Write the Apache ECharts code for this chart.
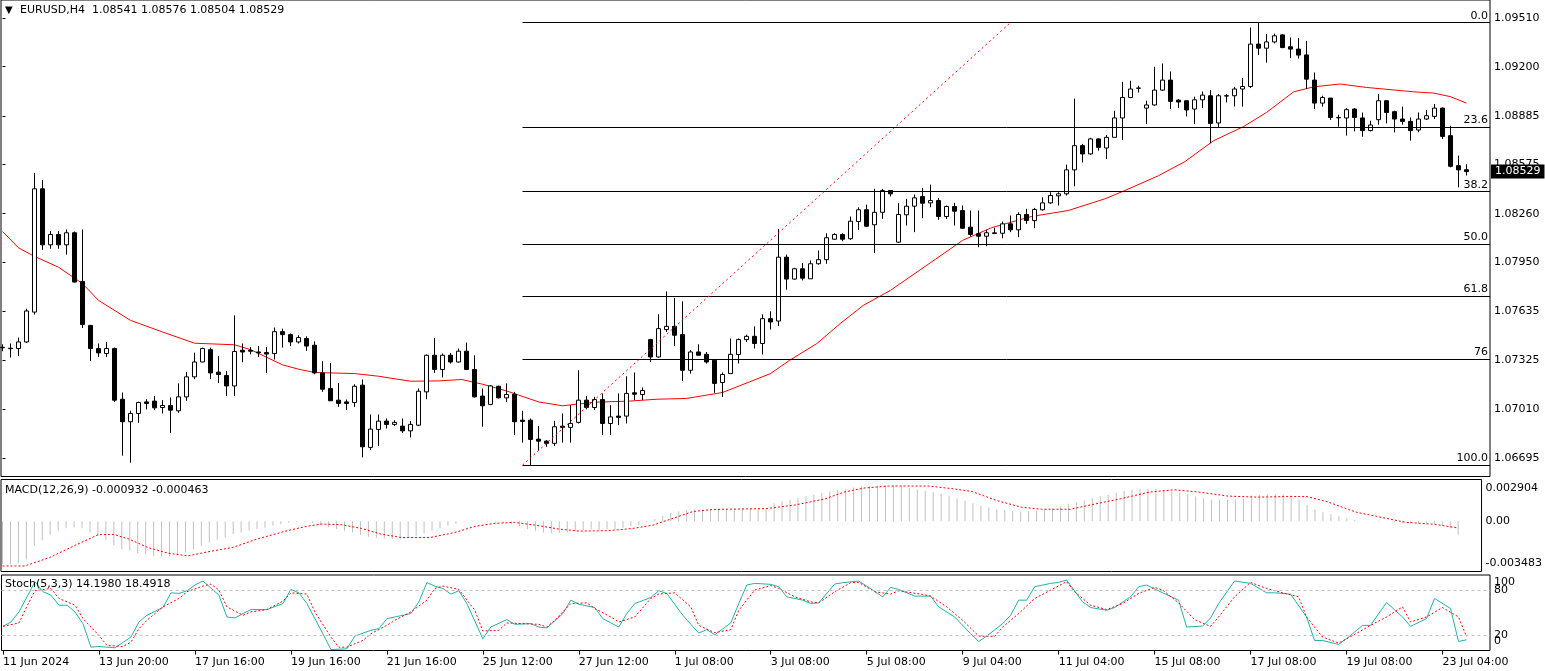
<!DOCTYPE html>
<html><head><meta charset="utf-8">
<script src="https://cdn.jsdelivr.net/npm/echarts@6.0.0/dist/echarts.min.js"></script>
<style>html,body{margin:0;padding:0;background:#fff}#c{width:1545px;height:671px}</style>
</head><body><div id="c"></div>
<script>
// ---- data (EURUSD H4) ----
const opens=[1.07403,1.07400,1.07398,1.07440,1.07631,1.08419,1.08061,1.08127,1.08061,1.08138,1.07827,1.07546,1.07398,1.07366,1.07398,1.07074,1.06930,1.06983,1.07057,1.07062,1.07021,1.07034,1.07000,1.07089,1.07217,1.07312,1.07391,1.07247,1.07226,1.07159,1.07387,1.07387,1.07376,1.07372,1.07366,1.07506,1.07487,1.07440,1.07462,1.07419,1.07242,1.07143,1.07068,1.07057,1.07053,1.07164,1.06766,1.06881,1.06934,1.06913,1.06902,1.06872,1.06908,1.07121,1.07355,1.07264,1.07355,1.07312,1.07381,1.07264,1.07094,1.07041,1.07157,1.07083,1.07106,1.06940,1.06940,1.06819,1.06806,1.06792,1.06902,1.06894,1.06926,1.07068,1.07021,1.07072,1.06919,1.06966,1.06966,1.07115,1.07104,1.07455,1.07344,1.07519,1.07540,1.07487,1.07259,1.07376,1.07361,1.07323,1.07181,1.07238,1.07360,1.07455,1.07476,1.07430,1.07589,1.07574,1.07982,1.07842,1.07908,1.07844,1.07940,1.07966,1.08097,1.08127,1.08100,1.08210,1.08285,1.08189,1.08269,1.08408,1.08078,1.08253,1.08308,1.08370,1.08329,1.08344,1.08242,1.08306,1.08280,1.08174,1.08132,1.08116,1.08133,1.08135,1.08195,1.08157,1.08255,1.08216,1.08285,1.08329,1.08374,1.08387,1.08540,1.08695,1.08642,1.08738,1.08680,1.08748,1.08872,1.09003,1.09063,1.08935,1.08955,1.09050,1.09114,1.08986,1.08982,1.08929,1.08988,1.09014,1.08840,1.09014,1.09014,1.09057,1.09073,1.09344,1.09318,1.09358,1.09403,1.09327,1.09312,1.09275,1.09114,1.08967,1.08999,1.08875,1.08872,1.08929,1.08872,1.08791,1.08861,1.08982,1.08912,1.08865,1.08850,1.08795,1.08865,1.08882,1.08935,1.08759,1.08567,1.08541];
const highs=[1.07425,1.07430,1.07468,1.07653,1.08521,1.08476,1.08148,1.08148,1.08159,1.08146,1.08159,1.07546,1.07430,1.07440,1.07404,1.07117,1.07000,1.07058,1.07074,1.07094,1.07068,1.07085,1.07175,1.07249,1.07372,1.07404,1.07404,1.07349,1.07255,1.07610,1.07430,1.07408,1.07414,1.07408,1.07532,1.07525,1.07494,1.07483,1.07476,1.07444,1.07317,1.07306,1.07178,1.07072,1.07170,1.07200,1.06977,1.06977,1.06951,1.06940,1.06951,1.06934,1.07143,1.07360,1.07465,1.07366,1.07370,1.07398,1.07436,1.07355,1.07143,1.07164,1.07160,1.07175,1.07121,1.07000,1.06951,1.06902,1.06813,1.06936,1.06983,1.07036,1.07259,1.07094,1.07089,1.07111,1.07036,1.07111,1.07221,1.07245,1.07149,1.07460,1.07617,1.07763,1.07721,1.07700,1.07387,1.07425,1.07376,1.07323,1.07245,1.07462,1.07462,1.07487,1.07540,1.07617,1.07636,1.08163,1.07999,1.07914,1.07944,1.07961,1.08025,1.08135,1.08135,1.08135,1.08242,1.08301,1.08318,1.08419,1.08419,1.08410,1.08327,1.08355,1.08382,1.08425,1.08446,1.08361,1.08312,1.08329,1.08312,1.08280,1.08280,1.08157,1.08170,1.08210,1.08248,1.08269,1.08291,1.08297,1.08365,1.08397,1.08397,1.08574,1.08995,1.08706,1.08745,1.08741,1.08763,1.08918,1.09103,1.09110,1.09078,1.08982,1.09199,1.09220,1.09169,1.08993,1.08982,1.09008,1.09041,1.09050,1.09025,1.09025,1.09071,1.09127,1.09450,1.09482,1.09408,1.09411,1.09408,1.09386,1.09382,1.09365,1.09163,1.09014,1.08999,1.08893,1.08935,1.08935,1.08907,1.08854,1.09025,1.08986,1.08918,1.08944,1.08875,1.08907,1.08923,1.08961,1.08939,1.08822,1.08631,1.08576];
const lows=[1.07381,1.07340,1.07351,1.07434,1.07615,1.08029,1.08036,1.08036,1.07998,1.07820,1.07529,1.07319,1.07344,1.07344,1.07057,1.06713,1.06668,1.06923,1.07009,1.07004,1.06983,1.06859,1.06987,1.07064,1.07202,1.07310,1.07202,1.07178,1.07094,1.07094,1.07310,1.07361,1.07344,1.07242,1.07328,1.07404,1.07413,1.07430,1.07383,1.07234,1.07121,1.07064,1.07025,1.07004,1.07025,1.06702,1.06749,1.06775,1.06887,1.06902,1.06859,1.06830,1.06902,1.07074,1.07242,1.07213,1.07302,1.07308,1.07260,1.07085,1.06898,1.07036,1.07079,1.07057,1.06845,1.06796,1.06653,1.06745,1.06770,1.06775,1.06796,1.06796,1.06919,1.07009,1.07004,1.06845,1.06845,1.06908,1.06919,1.07068,1.07068,1.07312,1.07340,1.07504,1.07414,1.07191,1.07238,1.07355,1.07302,1.07115,1.07089,1.07238,1.07302,1.07440,1.07398,1.07360,1.07519,1.07542,1.07774,1.07838,1.07834,1.07844,1.07934,1.07940,1.08093,1.08084,1.08093,1.08157,1.08174,1.08008,1.08227,1.08370,1.08072,1.08184,1.08142,1.08231,1.08301,1.08221,1.08227,1.08184,1.08163,1.08114,1.08046,1.08052,1.08132,1.08103,1.08142,1.08110,1.08195,1.08167,1.08280,1.08323,1.08312,1.08376,1.08435,1.08588,1.08636,1.08663,1.08610,1.08748,1.08731,1.08999,1.09035,1.08833,1.08950,1.09046,1.08929,1.08935,1.08882,1.08833,1.08935,1.08710,1.08808,1.08971,1.08946,1.08944,1.09063,1.09274,1.09226,1.09348,1.09318,1.09254,1.09252,1.09057,1.08929,1.08944,1.08859,1.08816,1.08759,1.08786,1.08752,1.08786,1.08829,1.08837,1.08780,1.08829,1.08727,1.08780,1.08859,1.08865,1.08738,1.08556,1.08429,1.08504];
const closes=[1.07406,1.07397,1.07440,1.07638,1.08419,1.08061,1.08127,1.08061,1.08138,1.07823,1.07551,1.07398,1.07370,1.07398,1.07068,1.06930,1.06983,1.07053,1.07047,1.07019,1.07034,1.07004,1.07089,1.07217,1.07312,1.07398,1.07242,1.07232,1.07159,1.07379,1.07376,1.07381,1.07370,1.07363,1.07506,1.07487,1.07440,1.07468,1.07414,1.07242,1.07138,1.07064,1.07047,1.07047,1.07157,1.06770,1.06883,1.06934,1.06913,1.06926,1.06872,1.06913,1.07125,1.07355,1.07264,1.07355,1.07312,1.07381,1.07264,1.07089,1.07032,1.07159,1.07083,1.07104,1.06930,1.06932,1.06817,1.06806,1.06792,1.06898,1.06894,1.06919,1.07068,1.07021,1.07072,1.06919,1.06961,1.06958,1.07111,1.07106,1.07130,1.07344,1.07525,1.07540,1.07483,1.07259,1.07376,1.07355,1.07312,1.07175,1.07232,1.07361,1.07455,1.07476,1.07430,1.07589,1.07568,1.07982,1.07842,1.07908,1.07848,1.07940,1.07966,1.08106,1.08127,1.08097,1.08212,1.08285,1.08180,1.08269,1.08408,1.08387,1.08255,1.08308,1.08361,1.08327,1.08344,1.08242,1.08306,1.08276,1.08167,1.08127,1.08116,1.08138,1.08138,1.08195,1.08157,1.08255,1.08216,1.08287,1.08329,1.08376,1.08387,1.08540,1.08695,1.08642,1.08738,1.08684,1.08748,1.08872,1.09003,1.09057,1.09062,1.08955,1.09050,1.09114,1.08978,1.08974,1.08923,1.08988,1.09018,1.08837,1.09014,1.09012,1.09057,1.09073,1.09344,1.09318,1.09358,1.09397,1.09322,1.09312,1.09274,1.09120,1.08967,1.09003,1.08875,1.08873,1.08925,1.08875,1.08791,1.08827,1.08982,1.08907,1.08865,1.08850,1.08791,1.08865,1.08886,1.08935,1.08754,1.08563,1.08540,1.08529];
// moving average readings [bar, price]
const maLine=[[0,1.08146],[2,1.08042],[4,1.07987],[7,1.07918],[10,1.07813],[12,1.07706],[16,1.07578],[20,1.07504],[24,1.07432],[29,1.07422],[31,1.07391],[35,1.07294],[37,1.07266],[39,1.07245],[44,1.07238],[47,1.07221],[51,1.07189],[54.5,1.07191],[57.4,1.07200],[60,1.07170],[63,1.07127],[67,1.07057],[70,1.07032],[74,1.07055],[78.4,1.07062],[81.8,1.07074],[85.5,1.07079],[90,1.07117],[93.4,1.07185],[96,1.07238],[98.4,1.07323],[101.8,1.07430],[104.7,1.07557],[107.6,1.07674],[111,1.07770],[116.6,1.07968],[120,1.08089],[123.6,1.08170],[128.6,1.08242],[133.2,1.08280],[137.8,1.08355],[140.3,1.08408],[144.5,1.08503],[147.8,1.08593],[151.4,1.08727],[155.1,1.08816],[158,1.08907],[161.4,1.09039],[163.9,1.09071],[167.2,1.09089],[170.5,1.09067],[176.4,1.09039],[178.9,1.09031],[181,1.09008],[183,1.08967]];
// MACD main (histogram) per bar
const macdMain=[-0.002982,-0.002982,-0.002913,-0.002633,-0.001701,-0.001305,-0.000932,-0.000652,-0.000489,-0.000419,-0.000489,-0.000769,-0.001002,-0.001305,-0.001654,-0.001934,-0.00205,-0.002214,-0.002307,-0.0024,-0.002447,-0.002447,-0.002353,-0.002167,-0.001934,-0.001701,-0.001468,-0.001282,-0.001118,-0.000885,-0.000769,-0.000629,-0.000536,-0.000443,-0.000303,-0.00021,-0.000117,-0.00007,-0.00007,-0.000117,-0.000256,-0.000419,-0.000536,-0.000652,-0.000769,-0.000955,-0.001072,-0.001142,-0.001188,-0.001235,-0.001235,-0.001142,-0.001002,-0.000839,-0.000652,-0.000489,-0.000303,-0.000163,-0.000023,0.000047,0.0,-0.000023,-0.00007,-0.000117,-0.00021,-0.00035,-0.000536,-0.000652,-0.000769,-0.000816,-0.000816,-0.000769,-0.000676,-0.000606,-0.000559,-0.000606,-0.000559,-0.000536,-0.000443,-0.00035,-0.000256,-0.00007,0.000163,0.000396,0.000583,0.000699,0.000792,0.000816,0.000816,0.000839,0.000862,0.000839,0.000862,0.000909,0.000909,0.000909,0.000932,0.001258,0.001398,0.001491,0.001608,0.001748,0.001864,0.00198,0.002074,0.00219,0.00226,0.002353,0.002423,0.002447,0.002493,0.002493,0.002447,0.0024,0.00233,0.002214,0.00212,0.002027,0.001911,0.001771,0.001608,0.001421,0.001258,0.001095,0.000955,0.000839,0.000769,0.000722,0.000676,0.000699,0.000746,0.000816,0.000885,0.001025,0.001212,0.001305,0.001445,0.001608,0.001748,0.001841,0.00198,0.002097,0.00219,0.002237,0.00226,0.002237,0.00219,0.002074,0.002004,0.001887,0.001724,0.001608,0.001515,0.001491,0.001491,0.001515,0.001584,0.001794,0.001841,0.001887,0.001887,0.001864,0.001794,0.001515,0.001142,0.000816,0.000629,0.000489,0.00035,0.00021,0.000093,0.0,0.000023,0.000047,0.0,-0.00007,-0.000117,-0.00014,-0.000117,-0.00014,-0.000186,-0.000256,-0.000489,-0.000932];
// MACD signal readings [bar, value]
const macdSignal=[[0,-0.0031],[2.8,-0.0031],[5.9,-0.00252],[9,-0.0017],[12.1,-0.00091],[14,-0.00091],[15.9,-0.00123],[18.3,-0.00182],[20.8,-0.00221],[23.3,-0.0024],[25.8,-0.00212],[28.9,-0.00182],[32,-0.00123],[35.8,-0.00065],[38.2,-0.00035],[40.1,-0.00019],[42.6,-0.00023],[45.1,-0.00049],[47.6,-0.00089],[50.1,-0.00112],[53.8,-0.00112],[56.9,-0.00077],[59.4,-0.00035],[61.9,-0.00014],[64.4,-0.00007],[66.9,-0.00026],[70,-0.00054],[72.5,-0.00068],[76.2,-0.00065],[79.3,-0.00049],[81.8,-0.00026],[84.3,0.00021],[86.8,0.00068],[89.2,0.00082],[93,0.00086],[96,0.00088],[99.7,0.00114],[103.4,0.00156],[105.8,0.00203],[108.3,0.00231],[111.4,0.00245],[116.4,0.00245],[119.5,0.00226],[121.9,0.00207],[125,0.00144],[128.1,0.00098],[130.6,0.00084],[134.3,0.00084],[136.8,0.00114],[140.5,0.00156],[144.2,0.00203],[147.3,0.00219],[150.4,0.00203],[154.1,0.00175],[157.8,0.00168],[161.5,0.00172],[164,0.00172],[166.5,0.00137],[170.2,0.00063],[172.7,0.00035],[176.4,-0.00007],[180.1,-0.00021],[183,-0.000463]];
// Stochastic readings [bar, value]
const stochK=[[0,32],[1,37.8],[2,51.1],[3,71.1],[4,91.1],[5,77.8],[6,73.3],[7,60],[8,60],[9,51.1],[10,35.6],[11,4.4],[12,5.3],[14,3.6],[16,17.8],[17,37.8],[18,46.7],[20,56.9],[21,76.4],[22,75.6],[23,79.1],[24,86.7],[25,92],[27,73.3],[28,44.4],[29,43.1],[30,48.9],[31,54.2],[33,54.2],[35,62.2],[36,80.9],[37,76.4],[38,62.2],[40,22.2],[41,1.3],[43,2.2],[44,19.1],[46,26.7],[47,28.9],[48,42.2],[49,44.4],[51,48.9],[52,64.4],[53,89.8],[54,85.3],[55,82.2],[56,74.7],[57,79.1],[58,62.2],[60,15.6],[61,31.1],[63,40.9],[64,34.7],[66,35.6],[67,31.1],[68,29.8],[70,48.9],[71,66.7],[72,61.3],[74,56.9],[75,42.2],[77,31.1],[78,48.9],[79,62.2],[81,70.2],[82,79.1],[83,75.6],[85,46.7],[86,34.7],[87,23.1],[88,27.6],[89,20.9],[91,36.4],[92,62.2],[93,86.7],[94,88.9],[96,87.6],[97,84.4],[98,71.1],[100,66.7],[101,62.2],[102,63.1],[104,88],[105,89.8],[107,92],[108,85.3],[110,71.1],[111,83.6],[112,80.9],[114,72],[116,72],[117,57.8],[119,44.4],[121,22.2],[122,12],[123,19.1],[125,35.6],[126,46.7],[127,66.7],[128,66.7],[129,84.4],[131,88.9],[132,90.2],[133,93.3],[135,64.4],[136,56.9],[138,53.3],[139,56.9],[141,71.1],[142,84.4],[143,86.7],[145,76.4],[147,66.7],[148,31.1],[150,32.4],[151,43.1],[152,62.2],[154,92],[156,88.9],[158,76.4],[159,76.4],[161,74.7],[163,44.4],[164,13.3],[165,13.3],[167,8],[168,15.6],[170,33.3],[171,33.3],[173,63.6],[175,44.4],[176,32],[178,42.2],[179,68.9],[181,55.6],[182,12],[183,14.198]];
const stochD=[[0,32],[2,36.5],[3,58.7],[4,79.1],[6,82.2],[7,68.9],[9,60],[10,42.2],[12,20],[13,6.7],[15,5.3],[16,11.1],[17,28.9],[18,40],[20,57.8],[22,68.9],[23,77.8],[25,85.3],[26,88],[27,80],[28,57.8],[30,46.7],[31,51.1],[33,54.2],[35,65.3],[36,76.4],[38,74.7],[39,51.1],[41,17.8],[42,4.4],[43,4.4],[45,13.3],[46,22.2],[48,33.3],[49,40],[51,51.1],[53,66.7],[54,82.2],[55,85.3],[57,80.9],[59,53.3],[60,25.8],[62,26.7],[63,36.5],[65,35.6],[67,34.7],[68,31.1],[69,40],[71,62.2],[73,63.1],[74,55.6],[76,44.4],[77,37.8],[79,44.4],[81,68.9],[82,74.7],[84,76.4],[86,57.8],[87,33.3],[89,23.6],[91,27.6],[92,53.3],[94,80],[96,86],[97,82.2],[99,71.1],[101,64.4],[102,63.1],[104,77.8],[106,89.8],[107,90.2],[109,77.8],[111,74.7],[112,79.1],[115,74.2],[116,72],[118,57.8],[120,40],[122,19.1],[124,18.7],[125,31.1],[127,48.9],[129,68.9],[131,80],[133,91.1],[134,77.8],[136,60],[138,54.2],[140,62.2],[142,75.6],[144,83.6],[145,80],[147,63.1],[149,40.9],[151,32],[152,44.4],[154,71.1],[156,90.2],[158,82.2],[160,76.4],[162,71.1],[163,44.4],[165,17.8],[167,9.8],[169,21.3],[171,33.3],[173,44.4],[175,57.8],[176,37.8],[178,44.4],[180,56.9],[182,44.4],[183,18.4918]];
// axis tick labels
const timeLabels=['11 Jun 2024','13 Jun 20:00','17 Jun 16:00','19 Jun 16:00','21 Jun 16:00','25 Jun 12:00','27 Jun 12:00','1 Jul 08:00','3 Jul 08:00','5 Jul 08:00','9 Jul 04:00','11 Jul 04:00','15 Jul 08:00','17 Jul 08:00','19 Jul 08:00','23 Jul 04:00'];
const priceTicks=[1.09510,1.09200,1.08885,1.08575,1.08260,1.07950,1.07635,1.07325,1.07010,1.06695];
const macdTicks=[0.002904,0,-0.003483];
const stochLevelTicks=[80,20];
const stochEdgeTicks=[100,0];
// Fibonacci retracement drawing
const fibRatios=[0,23.6,38.2,50,61.8,76,100];
const fibLabels=['0.0','23.6','38.2','50.0','61.8','76','100.0'];
const fibHigh=1.09482, fibLow=1.06653, fibStartBar=65, fibEndBar=126;

// ---- chart ----
const FONT='DejaVu Sans';
const XMIN=-0.1875, XMAX=185.9375;
const N=opens.length;
const candleData=opens.map((o,i)=>[i,o,closes[i],lows[i],highs[i]]);
const tickBars=timeLabels.map((_,k)=>k*12);
const last=N-1;
const fmt5=v=>v.toFixed(5);
const txt=(text,left,top,size)=>({text,left,top,padding:0,textStyle:{fontFamily:FONT,fontSize:size||11,fontWeight:'normal',color:'#000'}});
const hiddenX=(g)=>({type:'value',gridIndex:g,min:XMIN,max:XMAX,splitLine:{show:false},axisLine:{show:false},axisTick:{show:false},axisLabel:{show:false}});
const rs={fontSize:11,color:'#000',fontFamily:FONT};

const fibData=fibRatios.map((r,k)=>{
  const lvl=fibHigh-(fibHigh-fibLow)*r/100;
  return [{coord:[fibStartBar,lvl],name:fibLabels[k]},{coord:[XMAX,lvl]}];
});
fibData.push([{coord:[fibStartBar,fibLow],lineStyle:{color:'#ff0000',type:[2,3],width:1},label:{show:false}},{coord:[fibEndBar,fibHigh]}]);

const option={
  animation:false,
  textStyle:{fontFamily:FONT},
  title:[
    txt('▼',5,5,10),
    txt('EURUSD,H4  '+fmt5(opens[last])+' '+fmt5(highs[last])+' '+fmt5(lows[last])+' '+fmt5(closes[last]),20,5),
    txt('MACD(12,26,9) '+macdMain[last].toFixed(6)+' '+macdSignal[macdSignal.length-1][1].toFixed(6),5,485),
    txt('Stoch(5,3,3) '+stochK[stochK.length-1][1].toFixed(4)+' '+stochD[stochD.length-1][1].toFixed(4),5,579)
  ],
  grid:[
    {left:1,top:-1,width:1489,height:477.5,show:true,borderColor:'#000',borderWidth:1},
    {left:1,top:479.5,width:1489,height:92,show:true,borderColor:'#000',borderWidth:1},
    {left:1,top:575,width:1489,height:75.5,show:true,borderColor:'#000',borderWidth:1}
  ],
  xAxis:[hiddenX(0),hiddenX(1),{
    type:'value',gridIndex:2,min:XMIN,max:XMAX,splitLine:{show:false},axisLine:{show:false},
    axisTick:{show:true,customValues:tickBars,length:4,lineStyle:{color:'#000'}},
    axisLabel:{show:true,customValues:tickBars,align:'left',margin:6,fontSize:11,color:'#000',fontFamily:FONT,
      formatter:v=>timeLabels[Math.round(v/12)]}
  }],
  yAxis:[
    {type:'value',gridIndex:0,position:'right',min:1.06580,max:1.09626,splitLine:{show:false},
     axisLine:{show:false},
     axisTick:{show:true,customValues:priceTicks,length:3,lineStyle:{color:'#000'}},
     axisLabel:{customValues:priceTicks,formatter:v=>v.toFixed(5),color:'#000',fontSize:11,margin:4,fontFamily:FONT}},
    {type:'value',gridIndex:1,position:'right',min:-0.003483,max:0.002904,splitLine:{show:false},
     axisLine:{show:false},axisTick:{show:false},
     axisLabel:{customValues:macdTicks,color:'#000',fontSize:11,margin:4,fontFamily:FONT,
       formatter:v=>v===macdTicks[0]?'{t|'+v.toFixed(6)+'}':(v===macdTicks[2]?'{b|'+v.toFixed(6)+'}':'{m|0.00}'),
       rich:{t:Object.assign({padding:[17,0,0,0]},rs),b:Object.assign({padding:[0,0,17,0]},rs),m:rs}}},
    {type:'value',gridIndex:2,position:'right',offset:0,min:0,max:100,splitLine:{show:false},
     axisLine:{show:false},axisTick:{show:false},
     axisLabel:{customValues:stochLevelTicks,color:'#000',fontSize:11,margin:4,fontFamily:FONT}},
    {type:'value',gridIndex:2,position:'right',offset:0,min:0,max:100,splitLine:{show:false},
     axisLine:{show:false},axisTick:{show:false},
     axisLabel:{customValues:stochEdgeTicks,color:'#000',fontSize:11,margin:4,fontFamily:FONT,
       formatter:v=>v===100?'{t|100}':'{b|0}',
       rich:{t:Object.assign({padding:[14,0,0,0]},rs),b:Object.assign({padding:[0,0,19,0]},rs)}}}
  ],
  series:[
    {type:'line',xAxisIndex:0,yAxisIndex:0,data:maLine,showSymbol:false,symbol:'none',
     lineStyle:{color:'#ff0000',width:1},z:3},
    {type:'candlestick',xAxisIndex:0,yAxisIndex:0,data:candleData,encode:{x:0,y:[1,2,3,4]},barWidth:5,
     itemStyle:{color:'#ffffff',color0:'#000000',borderColor:'#000000',borderColor0:'#000000',borderColorDoji:'#000000',borderWidth:1},z:4},
    {type:'line',xAxisIndex:0,yAxisIndex:0,data:[],
     markLine:{silent:true,symbol:['none','none'],lineStyle:{color:'#000',width:1,type:'solid'},
       label:{show:true,position:'insideEndTop',formatter:'{b}',color:'#000',fontSize:11,fontFamily:FONT,distance:[2,1]},
       data:fibData},z:2},
    {type:'bar',xAxisIndex:1,yAxisIndex:1,data:macdMain.map((v,i)=>[i,v]),barWidth:1,itemStyle:{color:'#c0c0c0'},z:2},
    {type:'line',xAxisIndex:1,yAxisIndex:1,data:macdSignal,symbol:'none',lineStyle:{color:'#ff0000',width:1,type:[2,2]},z:3},
    {type:'line',xAxisIndex:2,yAxisIndex:2,data:stochK,symbol:'none',lineStyle:{color:'#20b2aa',width:1},z:3,
     markLine:{silent:true,symbol:['none','none'],label:{show:false},lineStyle:{color:'#c0c0c0',width:1,type:[3,3]},
       data:[{yAxis:80},{yAxis:20}]}},
    {type:'line',xAxisIndex:2,yAxisIndex:2,data:stochD,symbol:'none',lineStyle:{color:'#ff0000',width:1,type:[2,2]},z:4}
  ]
};
const chart=echarts.init(document.getElementById('c'),null,{renderer:'canvas'});
chart.setOption(option);
// current price tag on the price scale, placed through the axis scales
const tagY=chart.convertToPixel({yAxisIndex:0},closes[last]);
const tagX=chart.convertToPixel({xAxisIndex:0},XMAX)+1;
chart.setOption({graphic:[{type:'text',x:tagX,y:tagY,z:100,
  style:{text:fmt5(closes[last]),fill:'#fff',backgroundColor:'#000',padding:[2,4,1,4],
    font:'11px "DejaVu Sans"',verticalAlign:'middle',align:'left'}}]});
</script></body></html>
